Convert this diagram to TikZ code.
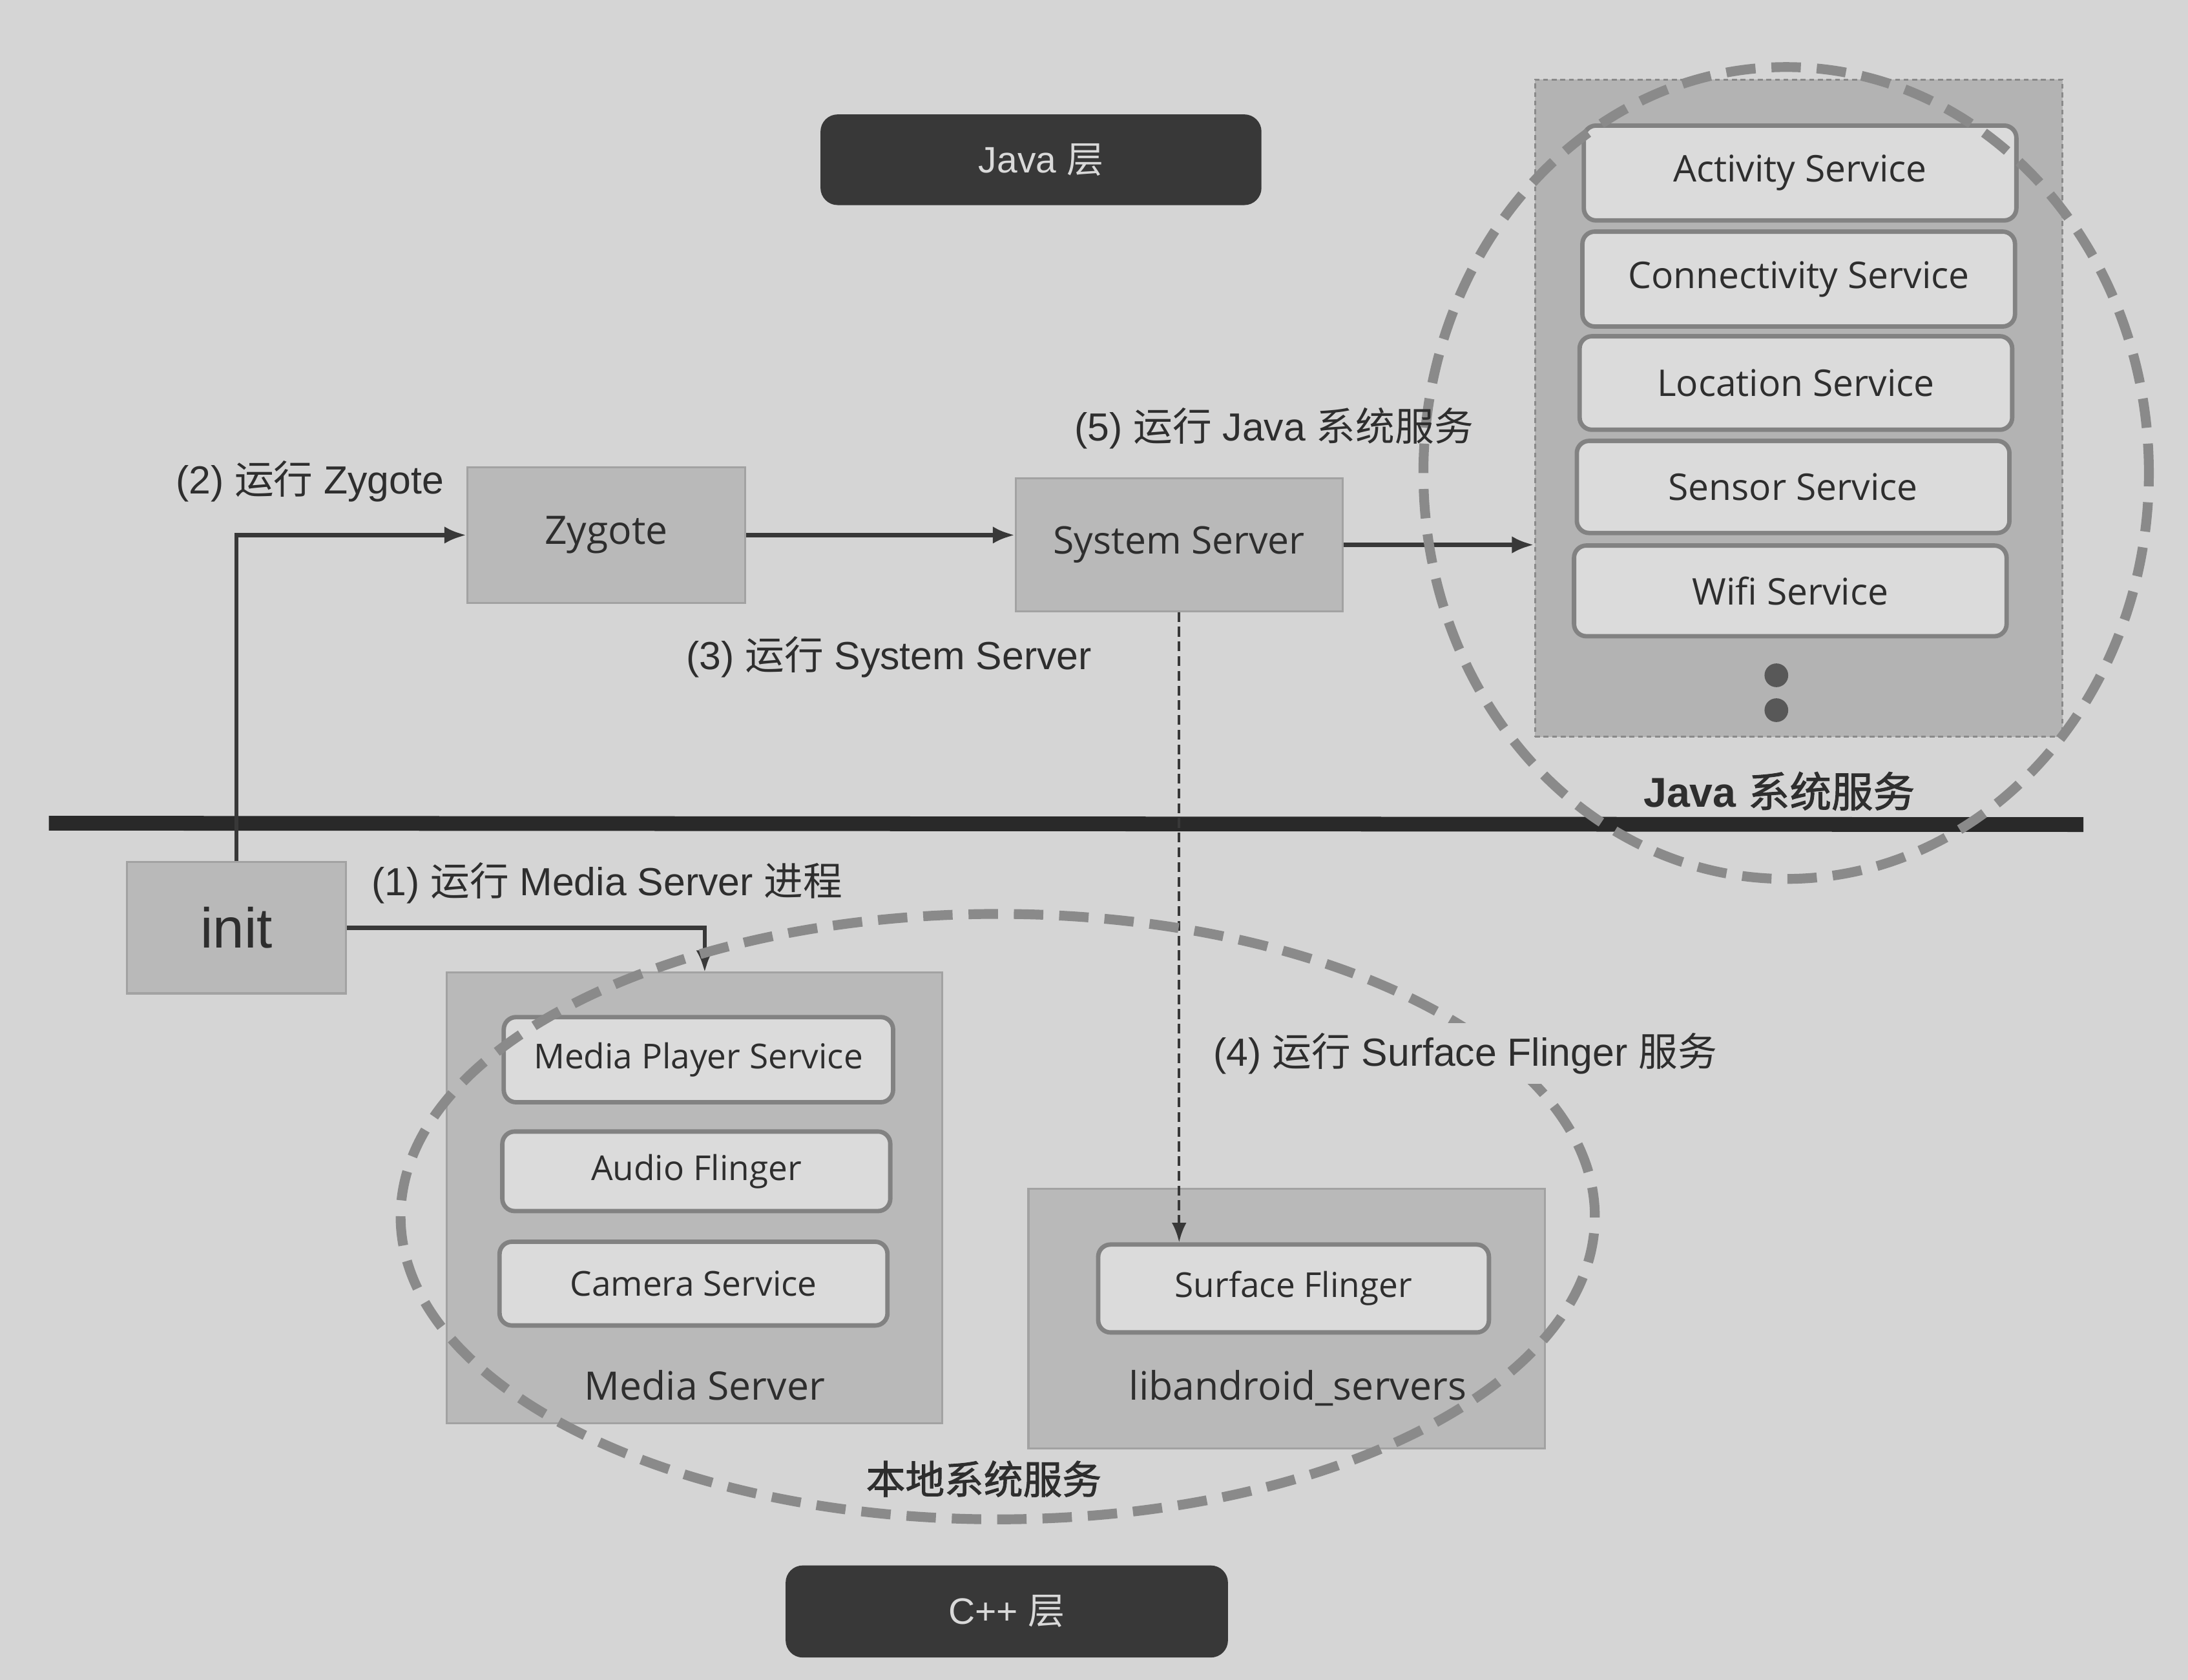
\documentclass[tikz,border=0pt]{standalone}
\usepackage{fontspec}
\setmainfont{Liberation Sans}
\newfontfamily\cjk{Noto Sans CJK SC}
\newfontfamily\cjkb{Noto Sans CJK SC}[FakeBold=1.5]
\newfontfamily\seg{Open Sans}
\usetikzlibrary{fit,arrows.meta,calc}
\definecolor{bg}{HTML}{D5D5D5}
\definecolor{boxfill}{HTML}{B9B9B9}
\definecolor{boxline}{HTML}{A2A2A2}
\definecolor{svcfill}{HTML}{DBDBDB}
\definecolor{svcline}{HTML}{828282}
\definecolor{ink}{HTML}{2E2E2E}
\definecolor{ringc}{HTML}{8A8A8A}
\definecolor{banner}{HTML}{383838}
\begin{document}
\begin{tikzpicture}[x=0.02cm,y=-0.02cm,
  every node/.style={text=ink},
  graybox/.style={fill=boxfill,draw=boxline,line width=0.8pt,inner sep=0pt},
  svcbox/.style={fill=svcfill,draw=svcline,line width=1.8pt,rounded corners=5pt,inner sep=0pt},
  svctext/.style={inner sep=0pt,font=\seg\fontsize{15}{17}\selectfont},
  msvctext/.style={inner sep=0pt,font=\seg\fontsize{14}{16}\selectfont},
  bannerbox/.style={fill=banner,draw=none,rounded corners=7pt,inner sep=0pt},
  bannertext/.style={inner sep=0pt,text=white!85!black,font=\fontsize{15}{17}\selectfont},
  lab/.style={font=\fontsize{16}{18}\selectfont,inner sep=1pt},
  arr/.style={draw=ink!95,line width=1.7pt,-{Latex[length=9pt,width=7pt]}},
  darr/.style={draw=ink!95,line width=1.1pt,dash pattern=on 4pt off 2pt,-{Latex[length=8pt,width=6pt]}},
  ring/.style={draw=ringc,line width=4pt,dash pattern=on 12pt off 6.5pt}
]
\fill[bg] (0,0) rectangle (1568,1204);
\useasboundingbox (0,0) rectangle (1568,1204);

% banners
\node[bannerbox,fit={(588,82) (904,147)}] (javab) {};
\node[bannertext] (javabt) at (javab) {Java {\cjk 层}};
\node[bannerbox,fit={(563,1122) (880,1188)}] (cppb) {};
\node[bannertext] (cppbt) at (cppb) {C++ {\cjk 层}};

% Java services container
\node[fill=boxfill!97!black,draw=ringc,line width=0.8pt,dash pattern=on 2pt off 1.5pt,inner sep=0pt,fit={(1100,57) (1478,528)}] (jbox) {};
\node[svcbox,fit={(1135,90) (1445,158)}] (act) {};
\node[svctext] (actt) at (act) {Activity Service};
\node[svcbox,fit={(1134,166) (1444,234)}] (con) {};
\node[svctext] (cont) at (con) {Connectivity Service};
\node[svcbox,fit={(1132,241) (1442,308)}] (loc) {};
\node[svctext] (loct) at (loc) {Location Service};
\node[svcbox,fit={(1130,316) (1440,382)}] (sen) {};
\node[svctext] (sent) at (sen) {Sensor Service};
\node[svcbox,fit={(1128,391) (1438,456)}] (wifi) {};
\node[svctext] (wifit) at (wifi) {Wifi Service};
\fill[ink!80] (1273,484) circle[radius=0.17cm];
\fill[ink!80] (1273,509) circle[radius=0.17cm];
\node[lab,font=\fontsize{17}{19}\selectfont] (jlab) at (1275,567) {\textbf{Java} {\cjkb 系统服务}};

% separating line
\draw[line width=6pt,ink!90!black] (35,590) -- (1493,591);

% main boxes
\node[graybox,fit={(91,618) (248,712)}] (init) {};
\node[inner sep=0pt,font=\fontsize{23}{25}\selectfont] (initt) at (init) {init};
\node[graybox,fit={(335,335) (534,432)}] (zyg) {};
\node[inner sep=0pt,font=\seg\fontsize{16}{18}\selectfont] (zygt) at (zyg) {Zygote};
\node[graybox,fit={(728,343) (962,438)}] (ss) {};
\node[inner sep=0pt,font=\seg\fontsize{15.5}{18}\selectfont] (sst) at (ss) {System Server};

% media server
\node[graybox,fit={(320,697) (675,1020)}] (ms) {};
\node[svcbox,fit={(361,729) (640,790)}] (mps) {};
\node[msvctext] (mpst) at (mps) {Media Player Service};
\node[svcbox,fit={(360,811) (638,868)}] (af) {};
\node[msvctext] (aft) at (af) {Audio Flinger};
\node[svcbox,fit={(358,890) (636,950)}] (cam) {};
\node[msvctext] (camt) at (cam) {Camera Service};
\node[font=\seg\fontsize{16}{18}\selectfont] (mslab) at (505,993) {Media Server};

% libandroid_servers
\node[graybox,fit={(737,852) (1107,1038)}] (lib) {};
\node[svcbox,fit={(787,892) (1067,955)}] (sf) {};
\node[msvctext] (sft) at (sf) {Surface Flinger};
\node[font=\seg\fontsize{16}{18}\selectfont] (liblab) at (930,995) {libandroid\_servers};

% connectors
\coordinate (msin) at (505,697);
\draw[arr] (init.north) |- (zyg.west);
\draw[arr] (zyg.east) -- (zyg.east -| ss.west);
\draw[arr] (ss.east) -- (ss.east -| jbox.west);
\draw[darr] (ss.south) -- (ss.south |- sf.north);
\draw[arr] (init.east) -| (msin);

% rings
\draw[ring] (1280,339) ellipse [x radius=5.2cm, y radius=5.82cm];
\draw[ring] (715,872) ellipse [x radius=8.56cm, y radius=4.34cm];

% labels
\node[lab] (l2) at (222,345) {(2) {\cjk 运行} Zygote};
\node[lab] (l3) at (637,471) {(3) {\cjk 运行} System Server};
\node[lab] (l5) at (913,307) {(5) {\cjk 运行} Java {\cjk 系统服务}};
\node[lab] (l1) at (435,633) {(1) {\cjk 运行} Media Server {\cjk 进程}};
\node[lab,fill=bg,inner sep=4pt] (l4) at (1050,755) {(4) {\cjk 运行} Surface Flinger {\cjk 服务}};
\node[lab,font=\cjkb\fontsize{16}{18}\selectfont] (local) at (705,1060) {本地系统服务};
\end{tikzpicture}
\end{document}
